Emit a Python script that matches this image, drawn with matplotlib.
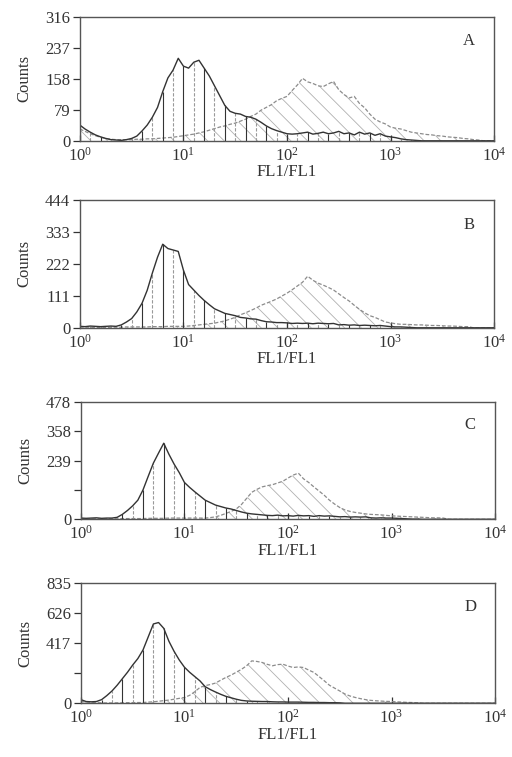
import numpy as np
import matplotlib.pyplot as plt
from matplotlib.ticker import NullLocator

plt.rcParams['font.family'] = ['Liberation Serif', 'DejaVu Serif']
plt.rcParams['hatch.linewidth'] = 0.6
plt.rcParams['hatch.color'] = '#b0b0b0'

# channel positions, log10(FL1) every 0.05 decade from 10^0 to 10^4
log_fl = np.arange(81) * 0.05

# panel A
a_dark = [40, 30, 22, 15, 10, 6, 3, 2, 1, 3,
          6, 12, 25, 40, 60, 85, 125, 160, 180, 210,
          190, 185, 200, 205, 185, 165, 140, 115, 90, 75,
          70, 68, 62, 60, 55, 47, 38, 31, 26, 22,
          18, 17, 18, 20, 22, 17, 19, 22, 18, 20,
          24, 18, 20, 15, 22, 17, 20, 14, 18, 12,
          10, 8, 5, 3, 2, 1, 0, 0, 0, 0,
          0, 0, 0, 0, 0, 0, 0, 0, 0, 0,
          0]
a_gray = [30, 24, 18, 13, 9, 6, 4, 3, 3, 3,
          3, 4, 4, 5, 5, 6, 7, 8, 9, 11,
          13, 15, 17, 20, 23, 27, 31, 35, 38, 42,
          45, 50, 55, 62, 68, 78, 85, 92, 102, 108,
          113, 128, 142, 159, 150, 146, 140, 138, 145, 151,
          130, 118, 109, 113, 95, 84, 68, 55, 48, 43,
          35, 32, 30, 26, 22, 20, 18, 16, 15, 13,
          12, 10, 9, 8, 6, 5, 3, 2, 0, 0,
          0]

# panel B
b_dark = [5, 4, 6, 5, 4, 5, 6, 5, 10, 20,
          32, 55, 85, 130, 190, 245, 290, 275, 270, 265,
          200, 150, 131, 112, 95, 80, 66, 58, 50, 46,
          42, 36, 34, 31, 30, 25, 21, 20, 18, 18,
          17, 15, 16, 15, 16, 14, 16, 15, 14, 15,
          10, 11, 9, 10, 8, 9, 8, 7, 8, 6,
          4, 3, 3, 2, 1, 0, 0, 0, 0, 0,
          0, 0, 0, 0, 0, 0, 0, 0, 0, 0,
          0]
b_gray = [3, 2, 2, 1, 1, 1, 2, 2, 2, 3,
          3, 3, 3, 3, 4, 4, 4, 5, 5, 5,
          5, 6, 8, 10, 12, 14, 16, 20, 24, 30,
          36, 45, 52, 60, 68, 78, 85, 92, 100, 110,
          120, 132, 145, 158, 179, 165, 155, 148, 140, 131,
          118, 105, 93, 78, 64, 52, 42, 36, 28, 20,
          17, 14, 12, 12, 11, 10, 10, 9, 8, 8,
          7, 6, 6, 5, 4, 4, 0, 0, 0, 0,
          0]

# panel C
c_dark = [5, 4, 5, 6, 4, 5, 5, 8, 20, 36,
          55, 78, 120, 175, 229, 270, 310, 265, 225, 190,
          150, 130, 112, 95, 78, 68, 58, 52, 46, 42,
          36, 30, 25, 22, 20, 18, 16, 15, 17, 14,
          15, 13, 16, 14, 15, 12, 15, 13, 14, 12,
          10, 11, 9, 10, 9, 10, 6, 5, 6, 5,
          5, 4, 3, 2, 1, 1, 0, 0, 0, 0,
          0, 0, 0, 0, 0, 0, 0, 0, 0, 0,
          0]
c_gray = [3, 2, 2, 2, 1, 2, 2, 2, 3, 3,
          3, 3, 3, 4, 4, 4, 4, 5, 5, 5,
          5, 5, 5, 5, 5, 7, 10, 16, 24, 32,
          42, 60, 85, 110, 122, 132, 137, 141, 148, 155,
          168, 180, 188, 165, 150, 132, 115, 98, 78, 62,
          48, 38, 32, 28, 25, 22, 20, 19, 18, 16,
          14, 13, 12, 11, 10, 9, 8, 7, 6, 6,
          5, 0, 0, 0, 0, 0, 0, 0, 0, 0,
          0]

# panel D
d_dark = [25, 12, 10, 12, 25, 53, 85, 125, 170, 215,
          265, 310, 370, 460, 550, 560, 520, 430, 360, 300,
          250, 215, 185, 155, 115, 95, 78, 62, 48, 38,
          28, 20, 16, 14, 13, 12, 12, 10, 9, 9,
          8, 8, 8, 7, 6, 6, 5, 5, 4, 4,
          3, 0, 0, 0, 0, 0, 0, 0, 0, 0,
          0, 0, 0, 0, 0, 0, 0, 0, 0, 0,
          0, 0, 0, 0, 0, 0, 0, 0, 0, 0,
          0]
d_gray = [12, 8, 6, 4, 3, 2, 2, 3, 3, 4,
          4, 5, 5, 8, 10, 14, 18, 22, 28, 34,
          40, 55, 80, 110, 122, 130, 140, 160, 179, 195,
          215, 235, 260, 294, 290, 283, 270, 260, 268, 271,
          258, 248, 252, 248, 230, 214, 185, 156, 125, 105,
          85, 64, 50, 40, 32, 25, 20, 17, 15, 13,
          12, 10, 8, 6, 5, 3, 0, 0, 0, 0,
          0, 0, 0, 0, 0, 0, 0, 0, 0, 0,
          0]

panel_names = ['A', 'B', 'C', 'D']
count_max = [316, 444, 478, 835]
count_labels = [['0', '79', '158', '237', '316'],
                ['0', '111', '222', '333', '444'],
                ['0', '', '239', '358', '478'],
                ['0', '', '417', '626', '835']]
dark_series = [a_dark, b_dark, c_dark, d_dark]
gray_series = [a_gray, b_gray, c_gray, d_gray]

# axes boxes in figure fractions (left, bottom, width, height)
boxes = [(0.156, 0.814, 0.809, 0.164),
         (0.156, 0.567, 0.809, 0.169),
         (0.158, 0.314, 0.809, 0.155),
         (0.158, 0.071, 0.809, 0.159)]

fig = plt.figure(figsize=(5.12, 7.57), dpi=100)
x = 10 ** log_fl
line_col = '#333333'

for name, ymax, labels, dark, gray, box in zip(panel_names, count_max, count_labels,
                                               dark_series, gray_series, boxes):
    ax = fig.add_axes(box)
    dark = np.array(dark, dtype=float)
    gray = np.array(gray, dtype=float)

    # shifted population: diagonal hatch, dashed outline
    ax.fill_between(x, 0, gray, facecolor='none', edgecolor='#b0b0b0',
                    hatch='\\\\', linewidth=0)
    ax.plot(x, gray, color='#8c8c8c', lw=0.9, ls=(0, (3, 1.5)))

    # control population: vertical line fill, solid outline
    idx = np.arange(0, len(x), 2)
    cols = ['#333333' if k % 2 == 0 else '#999999' for k in range(len(idx))]
    styles = ['solid' if k % 2 == 0 else (0, (3, 1.5)) for k in range(len(idx))]
    ax.vlines(x[idx], 0, dark[idx], colors=cols, linestyles=styles, lw=0.8)
    ax.plot(x, dark, color=line_col, lw=1.0)

    ax.set_xscale('log')
    ax.set_xlim(1, 1e4)
    ax.set_ylim(0, ymax)
    ax.xaxis.set_minor_locator(NullLocator())
    ax.set_yticks(np.linspace(0, ymax, 5))
    ax.set_yticklabels(labels)
    ax.tick_params(axis='y', direction='out', length=5, width=0.9,
                   colors=line_col, labelsize=12, pad=2)
    ax.tick_params(axis='x', direction='in', length=4, width=0.9,
                   colors=line_col, labelsize=12, pad=4)
    for sp in ax.spines.values():
        sp.set_color('#555555')
        sp.set_linewidth(1.0)

    ax.set_ylabel('Counts', fontsize=12, color=line_col, labelpad=9)
    ax.set_xlabel('FL1/FL1', fontsize=12, color=line_col, labelpad=0)
    ax.text(0.94, 0.8, name, transform=ax.transAxes, fontsize=12,
            color=line_col, ha='center', va='center')

fig.savefig('out.png', dpi=100)
